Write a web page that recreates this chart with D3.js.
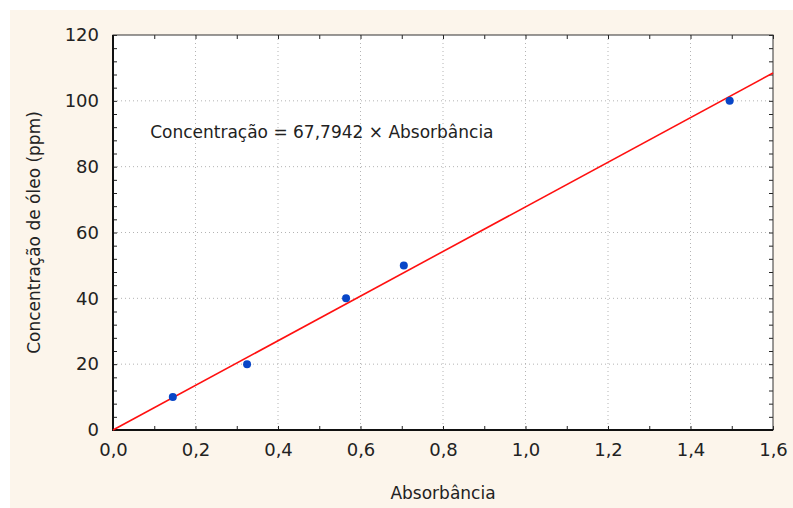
<!DOCTYPE html>
<html lang="pt">
<head>
<meta charset="utf-8">
<title>Concentração x Absorbância</title>
<script src="https://cdn.jsdelivr.net/npm/d3@7"></script>
<style>
  body { margin: 0; background: #fff; }
  svg text { font-family: "DejaVu Sans", sans-serif; fill: #222; }
  .grid line { stroke: #b4b4b4; stroke-dasharray: 1,3; }
</style>
</head>
<body>
<svg id="chart" width="793" height="508"></svg>
<script>
// data
var absorbance    = [0.145, 0.325, 0.565, 0.705, 1.495];
var concentration = [10, 20, 40, 50, 100];
var slope = 67.7942;
var fitRange = [0, 1.6];
var xTicks = [0, 0.2, 0.4, 0.6, 0.8, 1.0, 1.2, 1.4, 1.6];
var yTicks = [0, 20, 40, 60, 80, 100, 120];
var xLabel = "Absorbância";
var yLabel = "Concentração de óleo (ppm)";
var equation = "Concentração = 67,7942 × Absorbância";

var svg = d3.select("#chart");

// beige panel
svg.append("rect").attr("x", 10).attr("y", 10)
  .attr("width", 783).attr("height", 498).attr("fill", "#fcf5eb");

var margin = {left: 113, top: 35, right: 773, bottom: 430};
var x = d3.scaleLinear().domain([0, 1.6]).range([margin.left, margin.right]);
var y = d3.scaleLinear().domain([0, 120]).range([margin.bottom, margin.top]);
var fmt = function(d) { return d3.format(".1f")(d).replace(".", ","); };

svg.append("rect").attr("x", margin.left).attr("y", margin.top)
  .attr("width", margin.right - margin.left).attr("height", margin.bottom - margin.top)
  .attr("fill", "#fff");

// dotted grid
var grid = svg.append("g").attr("class", "grid");
grid.selectAll(".gx").data(xTicks.slice(1, -1)).enter().append("line")
  .attr("x1", function(d) { return x(d); }).attr("x2", function(d) { return x(d); })
  .attr("y1", margin.top).attr("y2", margin.bottom);
grid.selectAll(".gy").data(yTicks.slice(1, -1)).enter().append("line")
  .attr("y1", function(d) { return y(d); }).attr("y2", function(d) { return y(d); })
  .attr("x1", margin.left).attr("x2", margin.right);

// axes with inward ticks (major + minor)
var xMinor = d3.range(0, 1.601, 0.1);
var yMinor = d3.range(0, 120.1, 4);
function inward(g) {
  g.select(".domain").remove();
  g.selectAll("line").attr("stroke", "#222");
}
svg.append("g").attr("transform", "translate(0," + margin.bottom + ")")
  .call(d3.axisTop(x).tickValues(xMinor).tickSize(4).tickFormat(""))
  .call(inward);
svg.append("g").attr("transform", "translate(0," + margin.top + ")")
  .call(d3.axisBottom(x).tickValues(xMinor).tickSize(4).tickFormat(""))
  .call(inward);
svg.append("g").attr("transform", "translate(" + margin.left + ",0)")
  .call(d3.axisRight(y).tickValues(yMinor).tickSize(4).tickFormat(""))
  .call(inward);
svg.append("g").attr("transform", "translate(" + margin.right + ",0)")
  .call(d3.axisLeft(y).tickValues(yMinor).tickSize(4).tickFormat(""))
  .call(inward);

// tick labels
svg.append("g").attr("transform", "translate(0," + margin.bottom + ")")
  .call(d3.axisBottom(x).tickValues(xTicks).tickSize(0).tickPadding(10).tickFormat(fmt))
  .call(function(g) {
    g.select(".domain").remove();
    g.selectAll("text").attr("font-size", 18).attr("dy", "0.9em");
  });
svg.append("g").attr("transform", "translate(" + margin.left + ",0)")
  .call(d3.axisLeft(y).tickValues(yTicks).tickSize(0).tickPadding(14))
  .call(function(g) {
    g.select(".domain").remove();
    g.selectAll("text").attr("font-size", 18);
  });

// frame
svg.append("rect").attr("x", margin.left).attr("y", margin.top)
  .attr("width", margin.right - margin.left).attr("height", margin.bottom - margin.top)
  .attr("fill", "none").attr("stroke", "#333").attr("stroke-width", 1);
svg.append("line").attr("x1", margin.left).attr("x2", margin.left)
  .attr("y1", margin.top).attr("y2", margin.bottom + 1)
  .attr("stroke", "#111").attr("stroke-width", 2);
svg.append("line").attr("x1", margin.left).attr("x2", margin.right)
  .attr("y1", margin.bottom).attr("y2", margin.bottom)
  .attr("stroke", "#111").attr("stroke-width", 2);

// fitted line
var line = d3.line().x(function(d) { return x(d); }).y(function(d) { return y(slope * d); });
svg.append("path").datum(fitRange).attr("d", line)
  .attr("fill", "none").attr("stroke", "#ff1010").attr("stroke-width", 1.6);

// points
svg.selectAll(".pt").data(absorbance).enter().append("circle")
  .attr("cx", function(d) { return x(d); })
  .attr("cy", function(d, i) { return y(concentration[i]); })
  .attr("r", 4).attr("fill", "#0846c8");

// equation
svg.append("text").attr("x", x(0.09)).attr("y", y(88.6))
  .attr("font-size", 17).text(equation);

// axis titles
svg.append("text").attr("x", (margin.left + margin.right) / 2).attr("y", 499)
  .attr("text-anchor", "middle").attr("font-size", 17).text(xLabel);
svg.append("text").attr("transform", "translate(40," + (margin.top + margin.bottom) / 2 + ") rotate(-90)")
  .attr("text-anchor", "middle").attr("font-size", 17).text(yLabel);
</script>
</body>
</html>
